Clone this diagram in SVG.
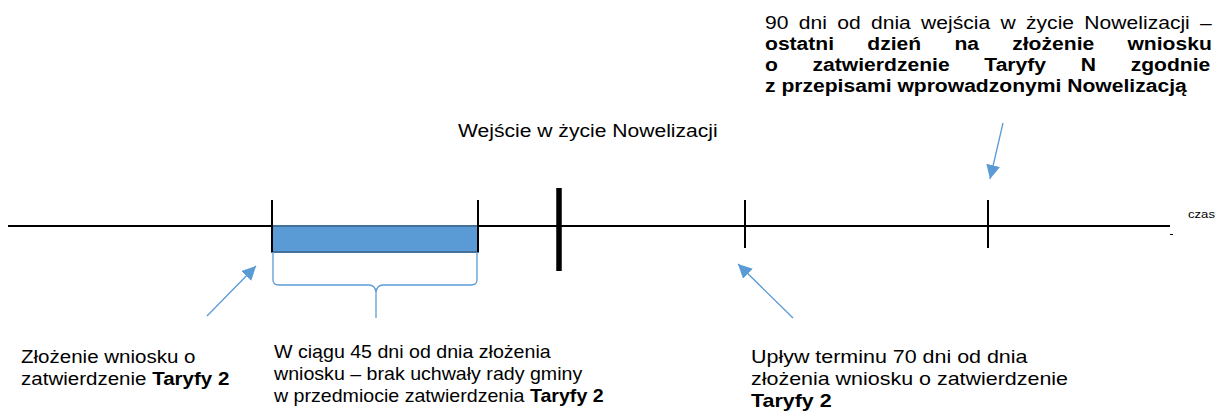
<svg xmlns="http://www.w3.org/2000/svg" width="1221" height="417" viewBox="0 0 1221 417">
<style>
.t{font-family:"Liberation Sans",Arial,sans-serif;font-size:18.5px;fill:#000}
.b{font-weight:bold}
.axis{stroke:#000;stroke-width:2.2;fill:none}
.tick{stroke:#000;stroke-width:2;fill:none}
.blue{stroke:#5B9BD5;stroke-width:1.3;fill:none}
</style>
<defs>
<marker id="ah" markerUnits="userSpaceOnUse" markerWidth="16" markerHeight="14" refX="14" refY="7" orient="auto">
<path d="M0,0 L14,7 L0,14 z" fill="#5B9BD5"/>
</marker>
</defs>
<rect width="1221" height="417" fill="#fff"/>
<g id="axis">
<line class="axis" x1="8" y1="226" x2="1170" y2="226"/>
<line x1="1170" y1="234.5" x2="1173" y2="234.5" stroke="#000" stroke-width="1"/>
<text class="t" transform="translate(1188,218) scale(1.14,1)" style="font-size:11.5px">czas</text>
</g>
<g id="period">
<rect x="272" y="226" width="206" height="26" fill="#5B9BD5" stroke="#41719C" stroke-width="2"/>
<line class="tick" x1="272" y1="200" x2="272" y2="252"/>
<line class="tick" x1="478" y1="200" x2="478" y2="252"/>
</g>
<g id="tick-entry">
<line x1="559" y1="188" x2="559" y2="271" stroke="#000" stroke-width="5.5"/>
</g>
<g id="tick-70">
<line class="tick" x1="745" y1="200" x2="745" y2="248"/>
</g>
<g id="tick-90">
<line class="tick" x1="988" y1="200" x2="988" y2="248"/>
</g>
<g id="connectors">
<path class="blue" d="M273,252 L273,280 Q273,285 279,285 L369,285 Q375,285 376,292 L376,318 M376,292 Q377,285 383,285 L471,285 Q477,285 477,280 L477,252"/>
<line class="blue" x1="207" y1="316" x2="256" y2="266" marker-end="url(#ah)"/>
<line class="blue" x1="793" y1="318" x2="738" y2="264" marker-end="url(#ah)"/>
<line class="blue" x1="1003" y1="123" x2="990" y2="179" marker-end="url(#ah)"/>
</g>
<g id="label-entry">
<text class="t" transform="translate(458,137) scale(1.14,1)">Wejście w życie Nowelizacji</text>
</g>
<g id="label-90">
<text class="t" transform="translate(765,29) scale(1.14,1)" word-spacing="3.9">90 dni od dnia wejścia w życie Nowelizacji –</text>
<text class="t b" transform="translate(765,50) scale(1.14,1)" word-spacing="24">ostatni dzień na złożenie wniosku</text>
<text class="t b" transform="translate(765,71) scale(1.14,1)" word-spacing="25.3">o zatwierdzenie Taryfy N zgodnie</text>
<text class="t b" transform="translate(765,92) scale(1.14,1)">z przepisami wprowadzonymi Nowelizacją</text>
</g>
<g id="label-submit">
<text class="t" transform="translate(21,363) scale(1.11,1)">Złożenie wniosku o</text>
<text class="t" transform="translate(21,385) scale(1.11,1)">zatwierdzenie <tspan class="b">Taryfy 2</tspan></text>
</g>
<g id="label-45">
<text class="t" transform="translate(274,358) scale(1.06,1)">W ciągu 45 dni od dnia złożenia</text>
<text class="t" transform="translate(274,380) scale(1.06,1)">wniosku – brak uchwały rady gminy</text>
<text class="t" transform="translate(274,402) scale(1.06,1)">w przedmiocie zatwierdzenia <tspan class="b">Taryfy 2</tspan></text>
</g>
<g id="label-70">
<text class="t" transform="translate(751,363) scale(1.16,1)">Upływ terminu 70 dni od dnia</text>
<text class="t" transform="translate(751,385) scale(1.16,1)">złożenia wniosku o zatwierdzenie</text>
<text class="t b" transform="translate(751,407) scale(1.16,1)">Taryfy 2</text>
</g>
</svg>
